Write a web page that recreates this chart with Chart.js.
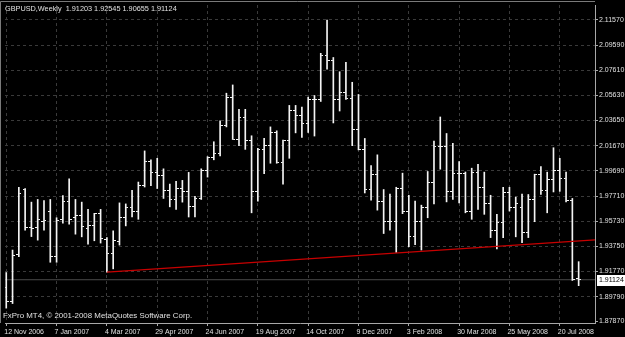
<!DOCTYPE html>
<html>
<head>
<meta charset="utf-8">
<script src="https://cdn.jsdelivr.net/npm/chart.js@4.4.1/dist/chart.umd.min.js"></script>
<style>
  html, body { margin: 0; padding: 0; background: #000; }
  #wrap { width: 625px; height: 337px; }
</style>
</head>
<body>
<div id="wrap"><canvas id="gbpusd"></canvas></div>
<script>
// GBPUSD weekly bars, 12 Nov 2006 .. 10 Aug 2008
const opens = [
  1.9050, 1.8938, 1.9310, 1.9826, 1.9525, 1.9520, 1.9569, 1.9653, 1.9294, 1.9588,
  1.9731, 1.9603, 1.9614, 1.9515, 1.9538, 1.9632, 1.9426, 1.9315, 1.9413, 1.9600,
  1.9684, 1.9653, 1.9853, 2.0042, 1.9957, 1.9931, 1.9814, 1.9744, 1.9834, 1.9808,
  1.9691, 1.9752, 1.9970, 2.0074, 2.0107, 2.0328, 2.0549, 2.0219, 2.0385, 2.0211,
  1.9803, 2.0134, 2.0165, 2.0268, 2.0037, 2.0204, 2.0445, 2.0406, 2.0341, 2.0531,
  2.0531, 2.0879, 2.0840, 2.0531, 2.0588, 2.0536, 2.0297, 2.0134, 1.9822, 1.9939,
  1.9725, 1.9567, 1.9567, 1.9830, 1.9653, 1.9450, 1.9569, 1.9684, 1.9881, 2.0159,
  2.0159, 1.9803, 1.9951, 1.9951, 1.9647, 1.9957, 1.9840, 1.9709, 1.9502, 1.9561,
  1.9795, 1.9684, 1.9678, 1.9483, 1.9744, 1.9943, 1.9814, 1.9900, 1.9970, 1.9907,
  1.9736, 1.91203
];
const highs = [
  1.9169, 1.9346, 1.9840, 1.9830, 1.9723, 1.9744, 1.9736, 1.9744, 1.9600, 1.9775,
  1.9907, 1.9744, 1.9723, 1.9666, 1.9635, 1.9666, 1.9444, 1.9497, 1.9717, 1.9709,
  1.9816, 1.9881, 2.0126, 2.0056, 2.0068, 1.9985, 1.9865, 1.9886, 1.9894, 1.9957,
  1.9769, 1.9985, 2.0081, 2.0198, 2.0362, 2.0580, 2.0645, 2.0453, 2.0453, 2.0245,
  2.0146, 2.0224, 2.0315, 2.0284, 2.0211, 2.0484, 2.0484, 2.0471, 2.0549, 2.0562,
  2.0894, 2.1155, 2.0861, 2.0749, 2.0822, 2.0666, 2.0570, 2.0224, 2.0011, 2.0095,
  1.9822, 1.9787, 1.9840, 1.9951, 1.9777, 1.9731, 1.9699, 1.9964, 2.0204, 2.0393,
  2.0263, 2.0185, 2.0042, 1.9960, 1.9990, 2.0021, 1.9959, 1.9777, 1.9627, 1.9840,
  1.9840, 1.9762, 1.9787, 1.9783, 1.9943, 2.0003, 1.9959, 2.0151, 2.0068, 1.9959,
  1.9752, 1.92545
];
const lows = [
  1.8889, 1.8925, 1.9294, 1.9502, 1.9452, 1.9424, 1.9502, 1.9250, 1.9250, 1.9557,
  1.9549, 1.9471, 1.9450, 1.9393, 1.9419, 1.9401, 1.9172, 1.9198, 1.9385, 1.9536,
  1.9606, 1.9588, 1.9842, 1.9853, 1.9830, 1.9752, 1.9686, 1.9666, 1.9723, 1.9606,
  1.9606, 1.9744, 1.9920, 2.0056, 2.0087, 2.0315, 2.0216, 2.0167, 2.0138, 1.9639,
  1.9731, 1.9946, 2.0029, 2.0029, 1.9865, 2.0068, 2.0268, 2.0232, 2.0271, 2.0243,
  2.0515, 2.0770, 2.0346, 2.0440, 2.0531, 2.0167, 2.0134, 1.9795, 1.9738, 1.9660,
  1.9476, 1.9502, 1.9327, 1.9632, 1.9372, 1.9388, 1.9346, 1.9600, 1.9709, 1.9982,
  1.9725, 1.9744, 1.9717, 1.9639, 1.9588, 1.9666, 1.9627, 1.9444, 1.9354, 1.9444,
  1.9653, 1.9450, 1.9405, 1.9444, 1.9569, 1.9783, 1.9639, 1.9803, 1.9808, 1.9725,
  1.9107, 1.90655
];
const closes = [
  1.8938, 1.9307, 1.9791, 1.9522, 1.9515, 1.9590, 1.9575, 1.9294, 1.9580, 1.9731,
  1.9585, 1.9614, 1.9528, 1.9538, 1.9632, 1.9434, 1.9315, 1.9419, 1.9606, 1.9684,
  1.9653, 1.9853, 2.0042, 1.9957, 1.9931, 1.9814, 1.9744, 1.9834, 1.9808, 1.9691,
  1.9752, 1.9970, 2.0074, 2.0107, 2.0328, 2.0549, 2.0219, 2.0385, 2.0211, 1.9803,
  2.0134, 2.0165, 2.0268, 2.0037, 2.0204, 2.0445, 2.0406, 2.0341, 2.0531, 2.0531,
  2.0879, 2.0840, 2.0531, 2.0588, 2.0536, 2.0297, 2.0134, 1.9822, 1.9939, 1.9725,
  1.9567, 1.9567, 1.9830, 1.9653, 1.9450, 1.9569, 1.9684, 1.9881, 2.0159, 2.0159,
  1.9803, 1.9951, 1.9951, 1.9647, 1.9957, 1.9840, 1.9709, 1.9502, 1.9561, 1.9795,
  1.9684, 1.9715, 1.9483, 1.9744, 1.9943, 1.9814, 1.9900, 1.9970, 1.9907, 1.9736,
  1.9112, 1.91124
];

const dateTicks = [0, 8, 16, 24, 32, 40, 48, 56, 64, 72, 80, 88];
const dateLabels = ["12 Nov 2006", "7 Jan 2007", "4 Mar 2007", "29 Apr 2007", "24 Jun 2007", "19 Aug 2007",
  "14 Oct 2007", "9 Dec 2007", "3 Feb 2008", "30 Mar 2008", "25 May 2008", "20 Jul 2008"];
const priceTicks = [2.1157, 2.0959, 2.0761, 2.0563, 2.0365, 2.0167, 1.9969, 1.9771,
  1.9573, 1.9375, 1.9177, 1.8979, 1.8787];

// red trend line, drawn from the March 2007 low
const trendX = [16, 93.6];
const trendY = [1.9172, 1.9426];

const lastPrice = 1.91124;
const xMin = -0.2, xMax = 93.6;
const barColor = "#f4f4f4";
const textColor = "#e0e0e0";
const fontFamily = "'Liberation Sans', Arial, sans-serif";

function tickMark(side) {
  const c = document.createElement("canvas");
  c.width = 5;
  c.height = 1;
  const g = c.getContext("2d");
  g.fillStyle = barColor;
  g.fillRect(side === "left" ? 0 : 3, 0, 2, 1);
  return c;
}

const idx = opens.map((_, i) => i);

const mtDecor = {
  id: "mtDecor",
  beforeDraw(chart) {
    const ctx = chart.ctx;
    ctx.save();
    ctx.fillStyle = "#000";
    ctx.fillRect(0, 0, chart.width, chart.height);
    ctx.restore();
  },
  afterDraw(chart) {
    const ctx = chart.ctx;
    const a = chart.chartArea;
    const y = chart.scales.y;
    ctx.save();
    // frame top / left
    ctx.strokeStyle = "#7a7a7a";
    ctx.lineWidth = 1;
    ctx.beginPath();
    ctx.moveTo(0.5, a.bottom);
    ctx.lineTo(0.5, 1.5);
    ctx.lineTo(a.right, 1.5);
    ctx.stroke();

    ctx.fillStyle = textColor;
    ctx.textBaseline = "middle";
    ctx.font = "7.3px " + fontFamily;
    ctx.fillText("GBPUSD,Weekly  1.91203 1.92545 1.90655 1.91124", 5, 8.5);
    ctx.font = "7.9px " + fontFamily;
    ctx.fillText("FxPro MT4, \u00a9 2001-2008 MetaQuotes Software Corp.", 3, 315.5);

    // current price box
    const py = y.getPixelForValue(lastPrice);
    ctx.fillStyle = "#ffffff";
    ctx.fillRect(597, Math.round(py) - 5, 28, 11);
    ctx.fillStyle = "#000";
    ctx.font = "7px " + fontFamily;
    ctx.fillText(lastPrice.toFixed(5), 599, Math.round(py) + 0.5);
    ctx.restore();
  }
};

new Chart(document.getElementById("gbpusd"), {
  type: "scatter",
  data: {
    datasets: [
      {
        type: "line",
        data: trendX.map((x, i) => ({ x: x, y: trendY[i] })),
        borderColor: "#c80000",
        borderWidth: 1.4,
        pointRadius: 0,
        showLine: true,
        order: 0,
      },
      {
        type: "scatter",
        data: idx.map(i => ({ x: i, y: opens[i] })),
        pointStyle: tickMark("left"),
        pointRadius: 3,
        order: 1,
      },
      {
        type: "scatter",
        data: idx.map(i => ({ x: i, y: closes[i] })),
        pointStyle: tickMark("right"),
        pointRadius: 3,
        order: 1,
      },
      {
        type: "bar",
        data: idx.map(i => ({ x: i, y: [lows[i], highs[i]] })),
        backgroundColor: barColor,
        borderWidth: 0,
        barThickness: 1,
        grouped: false,
        order: 2,
      },
      {
        type: "line",
        data: [{ x: xMin, y: lastPrice }, { x: xMax, y: lastPrice }],
        borderColor: "#4a4a4a",
        borderWidth: 1,
        pointRadius: 0,
        showLine: true,
        order: 3,
      },
    ],
  },
  options: {
    responsive: true,
    maintainAspectRatio: false,
    animation: false,
    events: [],
    layout: { padding: { left: 1, top: 2, right: 0, bottom: 0 } },
    plugins: { legend: { display: false }, tooltip: { enabled: false } },
    scales: {
      x: {
        type: "linear",
        position: "bottom",
        min: xMin,
        max: xMax,
        offset: false,
        afterBuildTicks: axis => { axis.ticks = dateTicks.map(v => ({ value: v })); },
        afterFit: axis => { axis.height = 14; axis.paddingLeft = 0; axis.paddingRight = 0; },
        ticks: {
          callback: v => dateLabels[dateTicks.indexOf(v)],
          align: "start",
          autoSkip: false,
          maxRotation: 0,
          labelOffset: -2,
          padding: 2,
          color: textColor,
          font: { family: fontFamily, size: 7 },
        },
        grid: { color: "#3a3a3a", tickColor: "#a8a8a8", tickLength: 3, offset: false },
        border: { color: "#a8a8a8", dash: [3, 3] },
      },
      y: {
        type: "linear",
        position: "right",
        min: 1.8772,
        max: 2.1274,
        afterBuildTicks: axis => { axis.ticks = priceTicks.map(v => ({ value: v })); },
        afterFit: axis => { axis.width = 30; axis.paddingTop = 0; axis.paddingBottom = 0; },
        ticks: {
          callback: v => v.toFixed(5),
          padding: 1,
          color: textColor,
          font: { family: fontFamily, size: 7 },
        },
        grid: {
          color: c => (c.tick && c.tick.value === 1.8787 ? "rgba(0,0,0,0)" : "#3a3a3a"),
          tickColor: "#a8a8a8",
          tickLength: 3,
        },
        border: { color: "#a8a8a8", dash: [3, 3] },
      },
    },
  },
  plugins: [mtDecor],
});
</script>
</body>
</html>
